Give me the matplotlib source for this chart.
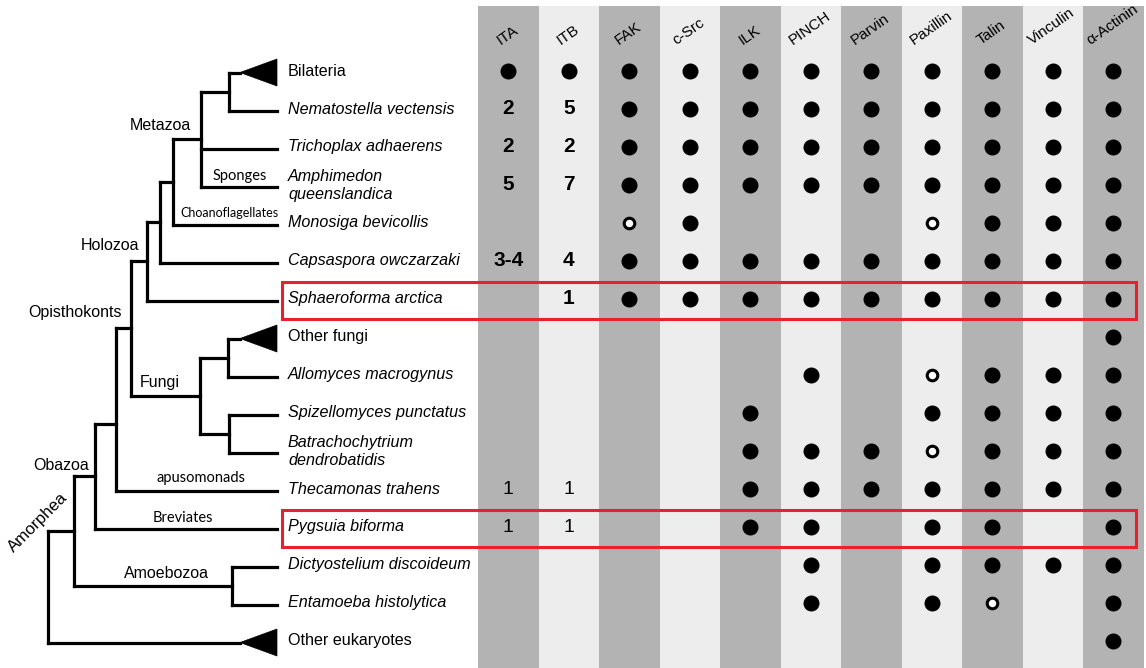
import matplotlib
matplotlib.use("Agg")
import matplotlib.pyplot as plt
from matplotlib.patches import Rectangle, Polygon

# ---------------------------------------------------------------- data
proteins = ["ITA", "ITB", "FAK", "c-Src", "ILK", "PINCH", "Parvin",
            "Paxillin", "Talin", "Vinculin", "\u03b1-Actinin"]

taxa = ["Bilateria", "Nematostella vectensis", "Trichoplax adhaerens",
        "Amphimedon\nqueenslandica", "Monosiga bevicollis",
        "Capsaspora owczarzaki", "Sphaeroforma arctica", "Other fungi",
        "Allomyces macrogynus", "Spizellomyces punctatus",
        "Batrachochytrium\ndendrobatidis", "Thecamonas trahens",
        "Pygsuia biforma", "Dictyostelium discoideum",
        "Entamoeba histolytica", "Other eukaryotes"]

# collapsed clades drawn as triangles
collapsed = ["Bilateria", "Other fungi", "Other eukaryotes"]
# taxa written upright (groups), the rest are species names in italics
group_names = ["Bilateria", "Other fungi", "Other eukaryotes"]
highlighted = ["Sphaeroforma arctica", "Pygsuia biforma"]

# F = present, O = present but divergent/partial, "" = absent,
# digits = number of integrin alpha / beta genes
presence = [
    ["F", "F", "F", "F", "F", "F", "F", "F", "F", "F", "F"],
    ["2", "5", "F", "F", "F", "F", "F", "F", "F", "F", "F"],
    ["2", "2", "F", "F", "F", "F", "F", "F", "F", "F", "F"],
    ["5", "7", "F", "F", "F", "F", "F", "F", "F", "F", "F"],
    ["", "", "O", "F", "", "", "", "O", "F", "F", "F"],
    ["3-4", "4", "F", "F", "F", "F", "F", "F", "F", "F", "F"],
    ["", "1", "F", "F", "F", "F", "F", "F", "F", "F", "F"],
    ["", "", "", "", "", "", "", "", "", "", "F"],
    ["", "", "", "", "", "F", "", "O", "F", "F", "F"],
    ["", "", "", "", "F", "", "", "F", "F", "F", "F"],
    ["", "", "", "", "F", "F", "F", "O", "F", "F", "F"],
    ["1", "1", "", "", "F", "F", "F", "F", "F", "F", "F"],
    ["1", "1", "", "", "F", "F", "", "F", "F", "", "F"],
    ["", "", "", "", "", "F", "", "F", "F", "F", "F"],
    ["", "", "", "", "", "F", "", "F", "O", "", "F"],
    ["", "", "", "", "", "", "", "", "", "", "F"],
]
bold_count_rows = [1, 2, 3, 5, 6]

# tree topology: (clade, node depth, children[, vertical shift]);
# leaves are taxon names
tree = ("", 48, [
    ("", 74, [
        ("Obazoa", 95, [
            ("", 116, [
                ("Opisthokonts", 131, [
                    ("Holozoa", 147, [
                        ("", 160, [
                            ("", 173, [
                                ("Metazoa", 201, [
                                    ("", 229, ["Bilateria",
                                               "Nematostella vectensis"]),
                                    "Trichoplax adhaerens",
                                    "Amphimedon\nqueenslandica"]),
                                "Monosiga bevicollis"]),
                            "Capsaspora owczarzaki"]),
                        "Sphaeroforma arctica"]),
                    ("Fungi", 200, [
                        ("", 228, ["Other fungi", "Allomyces macrogynus"]),
                        ("", 229, ["Spizellomyces punctatus",
                                   "Batrachochytrium\ndendrobatidis"])])]),
                "Thecamonas trahens"], 15),
            "Pygsuia biforma"]),
        ("Amoebozoa", 232, ["Dictyostelium discoideum",
                            "Entamoeba histolytica"])]),
    "Other eukaryotes"])

# ---------------------------------------------------------------- layout
W, H = 1146, 668
ROW0, ROW_H = 71, 38
COL0, COL_W = 478, 60.5
TIP_X, APEX_X = 277, 240
LABEL_X = 288

def row_y(i):
    return ROW0 + ROW_H * i

def col_x(j):
    return COL0 + COL_W * (j + 0.5)

plt.rcParams["font.family"] = ["Liberation Sans", "DejaVu Sans"]
fig = plt.figure(figsize=(W / 100, H / 100), dpi=100)
ax = fig.add_axes([0, 0, 1, 1])
ax.set_xlim(0, W)
ax.set_ylim(H, 0)
ax.axis("off")

# alternating column shading
for j, name in enumerate(proteins):
    shade = "#b3b3b3" if j % 2 == 0 else "#ededed"
    ax.add_patch(Rectangle((COL0 + COL_W * j, 6), COL_W, H - 6,
                           facecolor=shade, edgecolor="none", zorder=0))
    ax.text(col_x(j) - 1, 47.5, name, rotation=35, ha="center", va="bottom",
            fontsize=11, color="black")

# presence marks and gene counts
for i, row in enumerate(presence):
    y = row_y(i)
    for j, v in enumerate(row):
        x = col_x(j)
        if v == "F":
            ax.plot(x, y, "o", ms=10.5, color="black", mec="black", zorder=3)
        elif v == "O":
            ax.plot(x, y, "o", ms=7.6, mfc="white", mec="black", mew=2.2,
                    zorder=3)
        elif v:
            bold = i in bold_count_rows
            ax.text(x, y, v, ha="center", va="center",
                    fontsize=15 if bold else 14,
                    fontweight="bold" if bold else "normal",
                    family=["Liberation Sans Narrow", "Liberation Sans"],
                    zorder=3)

# ---------------------------------------------------------------- tree
LW = 2.3
leaf_y = {t: row_y(i) + 1.5 for i, t in enumerate(taxa)}

def seg(x0, y0, x1, y1):
    ax.plot([x0, x1], [y0, y1], color="black", lw=LW,
            solid_capstyle="projecting", zorder=2)

def draw(node, parent_x):
    if isinstance(node, str):
        y = leaf_y[node]
        if node in collapsed:
            seg(parent_x, y, APEX_X, y)
            ax.add_patch(Polygon([(APEX_X, y), (TIP_X, y - 13.5),
                                  (TIP_X, y + 13.5)], closed=True,
                                 facecolor="black", edgecolor="black",
                                 lw=0.5, zorder=2))
        else:
            seg(parent_x, y, TIP_X, y)
        return y
    x, children = node[1], node[2]
    shift = node[3] if len(node) > 3 else 0
    ys = [draw(c, x) for c in children]
    y = (min(ys) + max(ys)) / 2 + shift
    seg(x, min(ys), x, max(ys))
    if parent_x is not None:
        seg(parent_x, y, x, y)
    return y

draw(tree, None)

# taxon labels
for t in taxa:
    ax.text(LABEL_X, row_y(taxa.index(t)) + (0.5 if "\n" in t else 0), t,
            ha="left", va="center", fontsize=11.6,
            style="normal" if t in group_names else "italic",
            linespacing=1.2, zorder=4)

# clade names
clades = [("Metazoa", 160, 126, 11.5, "Liberation Sans"),
          ("Holozoa", 110, 246, 11.5, "Liberation Sans"),
          ("Opisthokonts", 75, 313, 11.5, "Liberation Sans"),
          ("Fungi", 160, 383, 11.5, "Liberation Sans"),
          ("Obazoa", 61, 465, 11.5, "Liberation Sans"),
          ("Amoebozoa", 166, 574, 11.5, "Liberation Sans"),
          ("Sponges", 240, 176, 10.5, "Lato"),
          ("Choanoflagellates", 229, 213, 9, "Lato"),
          ("apusomonads", 201, 478, 10.5, "Lato"),
          ("Breviates", 183, 518, 10.5, "Lato")]
for name, x, y, fs, fam in clades:
    ax.text(x, y, name, ha="center", va="center", fontsize=fs,
            family=[fam, "DejaVu Sans"])
ax.text(38, 522, "Amorphea", rotation=45, ha="center", va="center",
        fontsize=12)

# highlight boxes around the newly sampled taxa
for t in highlighted:
    y = row_y(taxa.index(t))
    ax.add_patch(Rectangle((282, y - 17.5), 1136 - 282, 37.5,
                           facecolor="none", edgecolor="#e8212b", lw=2.2,
                           zorder=5))

fig.savefig("out.png", dpi=100)
